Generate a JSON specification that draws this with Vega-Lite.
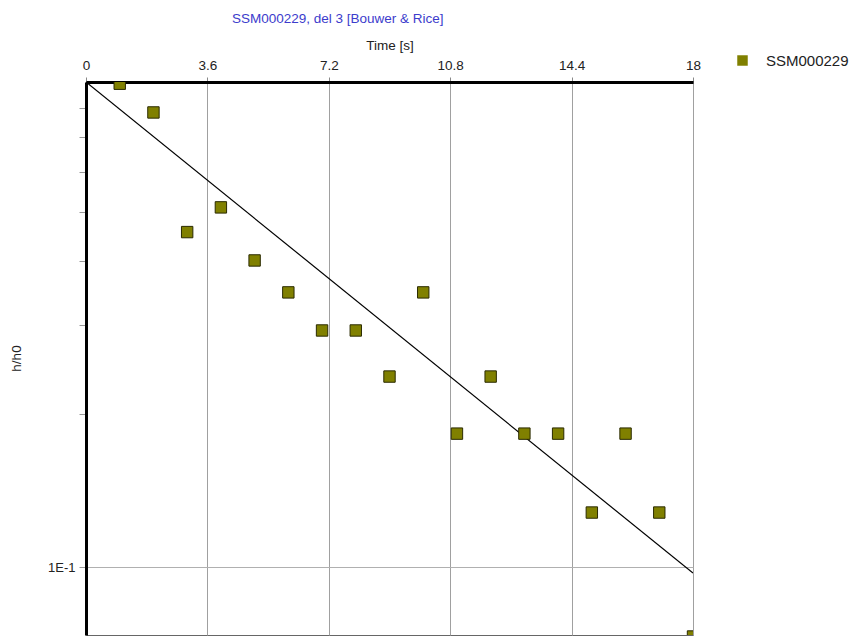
{
  "$schema": "https://vega.github.io/schema/vega-lite/v6.json",
  "width": 607,
  "height": 553,
  "autosize": {"type": "none"},
  "padding": {"left": 86, "top": 82, "right": 159, "bottom": 2},
  "background": "white",
  "config": {
    "font": "Liberation Sans",
    "view": {"stroke": "#666666", "strokeWidth": 1}
  },
  "title": {
    "text": "SSM000229, del 3 [Bouwer & Rice]",
    "color": "#3c3ccc",
    "fontSize": 13.5,
    "fontWeight": "normal",
    "anchor": "start",
    "frame": "group",
    "dx": 146,
    "offset": 13
  },
  "datasets": {
    "obs": [
      {"t": 1, "h": 0.893, "series": "SSM000229"},
      {"t": 2, "h": 0.784, "series": "SSM000229"},
      {"t": 3, "h": 0.456, "series": "SSM000229"},
      {"t": 4, "h": 0.510, "series": "SSM000229"},
      {"t": 5, "h": 0.401, "series": "SSM000229"},
      {"t": 6, "h": 0.347, "series": "SSM000229"},
      {"t": 7, "h": 0.292, "series": "SSM000229"},
      {"t": 8, "h": 0.292, "series": "SSM000229"},
      {"t": 9, "h": 0.237, "series": "SSM000229"},
      {"t": 10, "h": 0.347, "series": "SSM000229"},
      {"t": 11, "h": 0.183, "series": "SSM000229"},
      {"t": 12, "h": 0.237, "series": "SSM000229"},
      {"t": 13, "h": 0.183, "series": "SSM000229"},
      {"t": 14, "h": 0.183, "series": "SSM000229"},
      {"t": 15, "h": 0.128, "series": "SSM000229"},
      {"t": 16, "h": 0.183, "series": "SSM000229"},
      {"t": 17, "h": 0.128, "series": "SSM000229"},
      {"t": 18, "h": 0.073, "series": "SSM000229"}
    ],
    "fit": [
      {"t": 0, "h": 0.9},
      {"t": 18, "h": 0.0973}
    ]
  },
  "encoding": {
    "x": {
      "field": "t",
      "type": "quantitative",
      "scale": {"domain": [0, 18], "nice": false, "zero": false},
      "axis": {
        "orient": "top",
        "title": "Time [s]",
        "values": [0, 3.6, 7.2, 10.8, 14.4, 18],
        "labelExpr": "format(datum.value, '.1~f')",
        "labelFlush": false,
        "labelFontSize": 13.5,
        "labelColor": "#222222",
        "labelPadding": 5,
        "titleFontSize": 13.5,
        "titleFontWeight": "normal",
        "titleColor": "#222222",
        "titlePadding": 6,
        "tickColor": "#888888",
        "tickSize": 5,
        "domainColor": "#000000",
        "domainWidth": 3,
        "grid": true,
        "gridColor": "#a0a0a0",
        "gridWidth": 1
      }
    },
    "y": {
      "field": "h",
      "type": "quantitative",
      "scale": {"type": "log", "domain": [0.0735, 0.9], "nice": false},
      "axis": {
        "title": "h/h0",
        "values": [0.1, 0.2, 0.3, 0.4, 0.5, 0.6, 0.7, 0.8],
        "labelExpr": "datum.value == 0.1 ? '1E-1' : ''",
        "labelFontSize": 13,
        "labelColor": "#222222",
        "labelPadding": 4,
        "titleFontSize": 13.5,
        "titleFontWeight": "normal",
        "titleColor": "#222222",
        "titleX": -63,
        "titleY": 276,
        "tickColor": "#999999",
        "tickSize": 7,
        "domainColor": "#000000",
        "domainWidth": 3,
        "grid": true,
        "gridColor": "#b0b0b0",
        "gridWidth": 1,
        "gridOpacity": {"condition": {"test": "datum.value == 0.1", "value": 1}, "value": 0}
      }
    }
  },
  "layer": [
    {
      "data": {"name": "fit"},
      "mark": {"type": "line", "color": "#000000", "strokeWidth": 1.2, "clip": true}
    },
    {
      "data": {"name": "obs"},
      "mark": {
        "type": "point",
        "shape": "square",
        "filled": true,
        "opacity": 1,
        "size": 130,
        "stroke": "#2a2a00",
        "strokeWidth": 1,
        "clip": true
      },
      "encoding": {
        "color": {
          "field": "series",
          "type": "nominal",
          "scale": {"range": ["#808000"]},
          "legend": {
            "title": null,
            "orient": "none",
            "legendX": 649,
            "legendY": -29,
            "padding": 0,
            "symbolType": "square",
            "symbolSize": 110,
            "symbolStrokeWidth": 0,
            "labelFontSize": 15,
            "labelColor": "#222222",
            "labelOffset": 16
          }
        }
      }
    }
  ]
}
